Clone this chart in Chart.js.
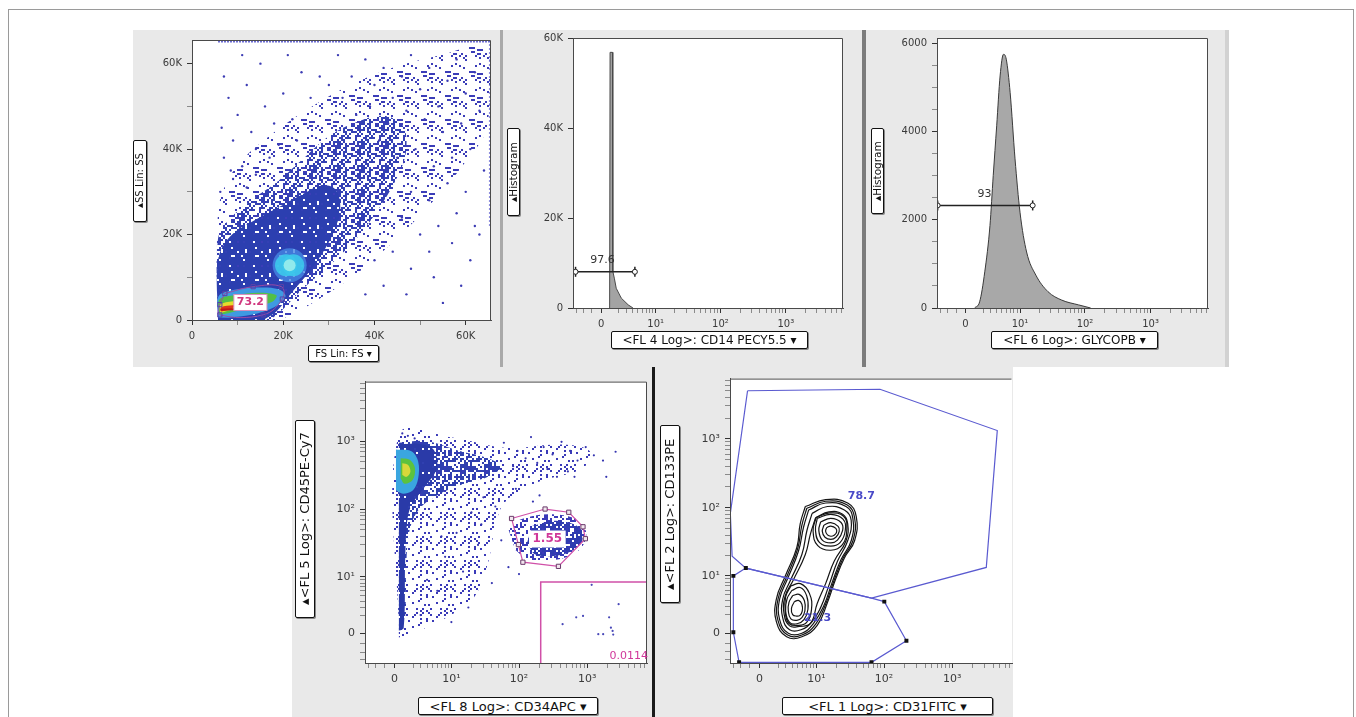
<!DOCTYPE html>
<html lang="en">
<head>
<meta charset="UTF-8" />
<title>Flow cytometry gating</title>
<script src="https://cdn.jsdelivr.net/npm/chart.js"></script>
<style>
  body { margin: 0; background: #fff; font-family: 'DejaVu Sans', sans-serif; }
  #page { position: relative; width: 1356px; height: 717px; overflow: hidden; }
  .frame { position: absolute; left: 8px; top: 9px; width: 1346px; height: 730px; border: 1px solid #9a9a9a; box-sizing: border-box; }
  .gray { position: absolute; background: #e9e9e9; }
  .bar { position: absolute; }
  canvas { position: absolute; }
  .lab {
    position: absolute; background: #fff; border: 1.5px solid #111; border-radius: 2px;
    color: #111; display: flex; align-items: center; justify-content: center;
    white-space: nowrap; box-sizing: border-box; box-shadow: 1px 1px 0 #888; overflow: visible;
  }
  .lab.v { writing-mode: vertical-rl; text-orientation: sideways; transform: rotate(180deg); box-shadow: -1px -1px 0 #888; }
</style>
</head>
<body>
<div id="page">
  <div class="frame"></div>
  <div class="gray" style="left:133px;top:30px;width:1096px;height:337px"></div>
  <div class="gray" style="left:292px;top:367px;width:721px;height:350px"></div>
  <div class="bar" style="left:500px;top:30px;width:3px;height:337px;background:#a9a9a9"></div>
  <div class="bar" style="left:862px;top:30px;width:4px;height:337px;background:#7c7c7c"></div>
  <div class="bar" style="left:1225px;top:30px;width:4px;height:337px;background:#d2d2d2"></div>
  <div class="bar" style="left:652px;top:367px;width:3px;height:350px;background:#1a1a1a"></div>

  <canvas id="c1"></canvas>
  <canvas id="c2"></canvas>
  <canvas id="c3"></canvas>
  <canvas id="c4"></canvas>
  <canvas id="c5"></canvas>

  <div class="lab v" style="left:133px;top:140px;width:14px;height:82px;font-size:10px">▴SS Lin: SS</div>
  <div class="lab" style="left:308px;top:345px;width:71px;height:17px;font-size:10px">FS Lin: FS ▾</div>
  <div class="lab v" style="left:507px;top:128px;width:13px;height:88px;font-size:10.5px">▴Histogram</div>
  <div class="lab" style="left:611px;top:331px;width:197px;height:18px;font-size:12px">&lt;FL 4 Log&gt;: CD14 PECY5.5 ▾</div>
  <div class="lab v" style="left:871px;top:128px;width:13px;height:86px;font-size:10.5px">▴Histogram</div>
  <div class="lab" style="left:991px;top:331px;width:167px;height:18px;font-size:12px">&lt;FL 6 Log&gt;: GLYCOPB ▾</div>
  <div class="lab v" style="left:295px;top:420px;width:20px;height:198px;font-size:13px">▴&lt;FL 5 Log&gt;: CD45PE-Cy7</div>
  <div class="lab" style="left:418px;top:697px;width:180px;height:18px;font-size:13px">&lt;FL 8 Log&gt;: CD34APC ▾</div>
  <div class="lab v" style="left:660px;top:425px;width:20px;height:178px;font-size:13px">▴&lt;FL 2 Log&gt;: CD133PE</div>
  <div class="lab" style="left:782px;top:697px;width:211px;height:18px;font-size:13px">&lt;FL 1 Log&gt;: CD31FITC ▾</div>
</div>

<script>
// ---------- axis ticks ----------
const linMajor = [0, 20000, 40000, 60000];
const linMinor = [10000, 30000, 50000];
const logMajor = [0, 10, 100, 1000];
const logMinor = [-3, -2, -1, 2, 3, 4, 5, 6, 7, 8, 9, 20, 30, 40, 50, 60, 70, 80, 90,
  200, 300, 400, 500, 600, 700, 800, 900, 2000, 3000, 4000, 5000, 6000, 7000];
const hist3Major = [0, 2000, 4000, 6000];
const hist3Minor = [500, 1000, 1500, 2500, 3000, 3500, 4500, 5000, 5500];

// ---------- panel 1: FS Lin vs SS Lin (values in thousands) ----------
const p1Halo = [[5.7,0],[5.7,25.2],[7.6,32.2],[11.2,37.7],[17.1,43.2],[24.3,48.6],[33.1,54.1],[43.3,58.8],
  [54.2,61.9],[64.8,64.2],[64.8,45.5],[59.3,36.1],[52,26.8],[44.8,19],[37.5,12],[30.2,6.5],[22.9,1.8],[19.2,0]];
const p1Band = [[5.7,0],[5.7,19],[8.3,23.7],[13.4,28.4],[18.5,32.2],[24.3,37.7],[30.2,43.2],[36,46.3],
  [41.8,47.8],[46.2,45.5],[46.9,39.3],[44.8,33],[40.4,25.2],[36,19],[30.2,12.8],[24.3,7.3],[20,2.6],[17.1,0]];
const p1Dense = [[5.7,0],[5.7,14],[8.3,19.5],[14,23.5],[19.2,26.5],[24.3,29.5],[28.5,31.5],[31.5,30.5],
  [32.5,26],[31,20.5],[28.5,15.5],[25.5,11],[22,6.6],[18.5,2],[15.6,0]];
const p1Ring = [[5.8,0.6],[5.8,5.5],[9,7],[14,7.6],[19,7.2],[20.5,5.5],[18,3],[13,1.2],[8,0.5]];
const p1Green = [[6,1.2],[6,4.8],[9.5,5.8],[14.5,6.4],[18.5,5.8],[17.5,4.2],[12.5,2.8],[8,1.6]];
const p1Yellow = [[6.2,1.6],[6.2,3.6],[9,4.4],[12.5,4.6],[11,3.2],[8,2.2]];
const p1Red = [[6.4,2.0],[6.4,3.0],[9.5,3.4],[8.5,2.4]];
const p1Streak = [[6.2,2.4],[10,2.6]];
const p1Blob = [[21.4,12.8]];
const p1BlobCore = [[20.6,12.8],[22.2,12.8]];
const p1Gate = [[7.2,6.2],[13.4,7.8],[19.6,7.8],[19.8,4.9],[15.6,1.2],[6.1,1.2],[6.1,3.6],[7.2,6.2]];
const p1Top = [[5.7,65.2],[65.3,65.2]];
const p1Right = [[65.3,22],[65.3,65.2]];
const p1Dots = [[6.5,45],[7,38],[8,52],[9,42],[10,48],[11,36],[12,55],[13,44],[14,40],[15,60],[16,50],[17,38],
  [9,33],[12,31],[7,57],[18,46],[20,53],[19,41],[22,47],[24,58],[21,62],[26,52],[23,42],[28,57],[14,34],[6.2,30],
  [8.5,35],[11,62],[32,62],[35,57],[38,61],[40,55],[42,59],[44,52],[46,57],[48,62],[50,54],[52,59],[54,50],[56,56],
  [58,61],[60,53],[62,58],[63,49],[59,46],[55,44],[51,47],[47,49],[43,46],[39,50],[36,48],[33,52],[30,55],[61,40],
  [57,38],[53,36],[49,40],[45,38],[64,35],[41,42],[48,30],[52,28],[56,32],[60,30],[58,25],[54,22],[50,20],[46,24],
  [62,22],[44,16],[48,12],[52,16],[57,18],[61,14],[42,8],[47,6],[53,10],[55,4],[59,8],[63,20],[38,6],[40,14]];

// ---------- panel 2: CD14 histogram ----------
const p2X = [0.90, 0.95, 1.22, 1.26, 1.45, 1.66, 2.3, 3.3, 4.1];
const p2Y = [0, 57000, 57000, 8200, 6500, 4400, 2200, 700, 0];
const p2GateX = [-3.1, 4.45];
const p2GateY = 8070;

// ---------- panel 3: GLYCOPB histogram ----------
const p3X = [0.99, 1.57, 2.21, 2.93, 3.43, 4.01, 4.64, 5.33, 5.95, 6.92, 8.32, 10.0, 12.7, 17.7, 27.2, 44, 80, 122];
const p3Y = [0, 140, 820, 1870, 3000, 4130, 5260, 5750, 5640, 4880, 3380, 2170, 1270, 745, 370, 180, 70, 0];
const p3GateX = [-3.4, 15.8];
const p3GateY = 2325;

// ---------- panel 4: CD34APC vs CD45PE-Cy7 ----------
const p4Halo = [[0.45,-0.41],[0.45,1268],[10.9,1125],[62.5,801],[435,894],[1091,710],[867,402],[195,253],
  [62,127],[44,51],[35,16],[22,4.74],[8.6,1.73],[2.8,0.27]];
const p4Medium = [[0.45,948],[3.96,998],[13.8,710],[35,564],[55,426],[35,300],[13.8,227],[5.9,160],[2.8,101],
  [1.62,51],[1.23,16],[1.04,0.97],[0.45,0.27]];
const p4Dense = [[0.45,894],[2.8,912],[5.2,754],[5.9,402],[3.4,201],[1.8,114],[1.31,64],[1.1,16],[0.95,0.6],[0.45,0.27]];
const p4Cyan = [[0.15,754],[1.8,710],[2.66,505],[2.66,283],[2.0,191],[0.88,170],[0.15,191]];
const p4Green = [[0.63,564],[1.62,536],[2.24,402],[1.95,269],[1.04,238],[0.63,283]];
const p4Yellow = [[0.8,476],[1.43,449],[1.69,356],[1.27,300],[0.8,320]];
const p4Cluster = [[70,51],[110,72],[275,85],[689,72],[968,45],[769,25.5],[346,18],[139,18],[88,25.5]];
const p4ClusterCore = [[155,57],[346,68],[769,54],[816,32],[435,21.6],[175,21.6],[131,32]];
const p4Gate = [[77.8,73.4],[241,101],[536,90.5],[866,55.4],[938,37],[378,14.4],[114,16.6],[98,30.3],[77.8,73.4]];
const p4Quad = [[208,-3.5],[208,8.3],[7500,8.3]];
const p4Dots = [[60,950],[95,720],[150,1150],[230,820],[310,640],[420,980],[560,720],[720,520],[950,820],[1250,620],
  [1700,520],[2600,700],[185,480],[125,560],[82,430],[260,390],[360,300],[520,360],[0.8,1300],[1.4,1200],[2.2,1100],
  [30,150],[20,90],[45,110],[12,45],[25,30],[8,20],[15,12],[40,8],[6,6],[18,3],[3,2],[10,1.2],[28,60],[55,35],
  [70,14],[100,11],[4,9],[7,40],[160,130],[200,160],[90,200],[650,300],[1900,300]];
const p4QuadDots = [[435,0.97],[689,1.73],[867,1.9],[1160,7.5],[2090,1.73],[2220,0.6],[2350,0.27],[2880,3.5],
  [1450,-0.06],[1710,-0.06],[2400,-0.1]];

// ---------- panel 5: CD31FITC vs CD133PE contours ----------
const p5Upper = [[-1.24,4995],[87.3,5250],[4565,1320],[3150,13.4],[65.6,4.4],[-1.43,13.1],[-3.18,19.7],[-3.45,82.6],[-1.24,4995]];
const p5Lower = [[-1.43,13.1],[65.6,4.4],[101,3.8],[213,-0.76],[65.6,-3.4],[-2.23,-3.4],[-3.0,0.1],[-3.0,10],[-1.43,13.1]];
const p5Handles = [[-1.43,13.1],[-3.0,10],[-3.0,0.1],[-2.23,-3.4],[65.6,-3.4],[213,-0.76],[101,3.8]];
const p5Contours = [
  [[6.72,104],[13.8,131],[29.3,117],[39.2,73.9],[37,33],[26.2,18.5],[19.6,9.1],[14.7,3.67],[10.3,0.8],[5.91,-0.35],
   [3.15,-0.35],[1.8,1.2],[1.8,4.24],[3.0,10.2],[4.86,26.3],[5.55,58.7]],
  [[7.1,98],[13.8,124],[28.5,110],[37,72],[35,33],[24.8,18],[18.5,8.6],[13.8,3.4],[9.7,0.9],[5.9,-0.17],
   [3.3,-0.17],[2.0,1.3],[2.0,4.24],[3.15,9.6],[5.0,24.8],[5.9,55.5]],
  [[7.6,92.7],[13.8,117],[27.7,104],[34.9,69.8],[33,33],[23.4,17.5],[17.4,8.1],[13.0,3.2],[9.1,1.05],[5.91,0],
   [3.4,0],[2.2,1.42],[2.2,4.24],[3.3,9.1],[5.19,23.4],[6.3,52.4]],
  [[8.6,82.7],[14.7,104],[26.2,92.7],[33,65.7],[29.3,33],[20.7,16.5],[15.5,7.2],[11.6,2.9],[8.6,1.2],[5.7,0.35],
   [3.6,0.35],[2.6,1.62],[2.6,4.24],[3.7,8.4],[5.91,20.8],[7.13,46.6]],
  [[9.7,71],[15.5,86.9],[24.7,80.5],[29.3,58.7],[27.7,33],[18.5,16.5],[13.8,7.6],[10.3,3.5],[8.1,1.0],[5.3,0.69],
   [3.6,0.75],[2.8,2.0],[2.9,4.6],[4.2,8.6],[6.72,20.8],[8.1,41.6]],
  [[9.9,72],[16,84],[25.5,75],[28.5,50],[24.5,29],[16.5,24],[10.5,28],[8.9,46]],
  [[10.3,70],[16.5,80],[25,68],[27,46.6],[22.6,31],[16.5,27.6],[11.2,31],[9.7,46.6]],
  [[11.6,62],[16.5,69.8],[23.4,61],[24.7,46.6],[20.7,33.8],[16.5,30.8],[12.3,33.8],[10.9,46.6]],
  [[13.0,55.6],[16.5,60.8],[21.2,53.5],[22,45.2],[19.6,37.1],[16.5,34.6],[13.5,37.1],[12.3,45.2]],
  [[14.3,51.2],[16.5,54.1],[19.6,50],[20.1,44.1],[18.5,39.7],[16.5,38.4],[14.7,40.2],[13.8,45.4]],
  [[3.8,7.0],[5.6,7.6],[7.8,5.3],[8.4,2.6],[7.0,1.1],[5.0,0.8],[3.5,1.0],[2.95,2.3],[3.0,4.6]],
  [[3.95,5.9],[5.55,6.6],[7.05,4.86],[7.4,2.68],[6.4,1.42],[4.9,0.97],[3.6,1.12],[3.0,2.45],[3.2,4.24]],
  [[4.1,4.86],[5.3,5.1],[6.5,3.95],[6.6,2.45],[5.91,1.65],[4.86,1.34],[3.8,1.5],[3.4,2.45],[3.5,3.67]],
  [[4.4,3.8],[5.19,4.0],[5.91,3.4],[6.0,2.45],[5.5,1.9],[4.8,1.82],[4.1,2.0],[3.9,2.8]]
];

// ---------- in-plot gate labels ----------
const MARKS = {
  c1: [{ x: 12800, y: 4100, text: '73.2', color: '#d0387f', box: '#d98fbc', bold: true }],
  c2: [{ x: 0.14, y: 10700, text: '97.6', color: '#333' }],
  c3: [{ x: 2.16, y: 2590, text: '93', color: '#333' }],
  c4: [{ x: 260, y: 36.6, text: '1.55', color: '#d0389a', box: '#fff', bold: true, size: 12 },
       { x: 4045, y: -2.54, text: '0.0114', color: '#d0389a' }],
  c5: [{ x: 46.5, y: 146, text: '78.7', color: '#4a4ac8', bold: true },
       { x: 10.4, y: 1.54, text: '21.3', color: '#4a4ac8', bold: true }]
};
const NO_RIGHT = { c5: true };

// ---------- biexponential (asinh) display scale ----------
const COF = 3;
const LOG_MIN = -3.5, LOG_MAX = 7500;
const tr = v => Math.asinh(v / COF);
class LogicleScale extends Chart.LinearScale {
  static id = 'logicle';
  static defaults = {};
  determineDataLimits() {
    this.min = this.options.min;
    this.max = this.options.max;
  }
  buildTicks() { return []; }
  getPixelForValue(value) {
    const a = tr(this.min), b = tr(this.max);
    return this.getPixelForDecimal((tr(value) - a) / (b - a));
  }
  getValueForPixel(pixel) {
    const a = tr(this.min), b = tr(this.max);
    return COF * Math.sinh(a + this.getDecimalForPixel(pixel) * (b - a));
  }
}
Chart.register(LogicleScale);

// white plot area, frame and gate labels
Chart.register({
  id: 'plotFrame',
  beforeDraw(chart) {
    const a = chart.chartArea, g = chart.ctx;
    g.save(); g.fillStyle = '#fff'; g.fillRect(a.left, a.top, a.width, a.height); g.restore();
  },
  afterDatasetsDraw(chart) {
    const a = chart.chartArea, g = chart.ctx, id = chart.canvas.id;
    g.save();
    g.strokeStyle = '#4a4a4a'; g.lineWidth = 1;
    g.beginPath();
    g.moveTo(a.left + 0.5, a.bottom); g.lineTo(a.left + 0.5, a.top + 0.5); g.lineTo(a.right - 0.5, a.top + 0.5);
    if (!NO_RIGHT[id]) g.lineTo(a.right - 0.5, a.bottom);
    g.stroke();
    (MARKS[id] || []).forEach(m => {
      const px = chart.scales.x.getPixelForValue(m.x), py = chart.scales.y.getPixelForValue(m.y);
      g.font = (m.bold ? 'bold ' : '') + (m.size || 11) + 'px "DejaVu Sans"';
      const w = g.measureText(m.text).width;
      if (m.box) {
        g.fillStyle = '#fff'; g.fillRect(px - w / 2 - 3, py - 8, w + 6, 16);
        g.strokeStyle = m.box; g.strokeRect(px - w / 2 - 3, py - 8, w + 6, 16);
      }
      g.fillStyle = m.color; g.textAlign = 'center'; g.textBaseline = 'middle';
      g.fillText(m.text, px, py);
    });
    g.restore();
  }
});

// ---------- helpers ----------
let seed = 1;
function speckle(color, density) {
  const cell = 2, n = 12, s = seed++;
  const c = document.createElement('canvas');
  c.width = c.height = n * cell;
  const g = c.getContext('2d');
  g.fillStyle = color;
  for (let i = 0; i < n; i++) for (let j = 0; j < n; j++) {
    const h = (((i + 1) * 73856093) ^ ((j + 1) * 19349663) ^ (s * 83492791)) >>> 0;
    if ((h % 1009) / 1009 < density) g.fillRect(i * cell, j * cell, cell, cell);
  }
  return g.createPattern(c, 'repeat');
}
const xy = (arr, k = 1) => arr.map(p => ({ x: p[0] * k, y: p[1] * k }));
const area = (arr, color, k, tension = 0.35) =>
  ({ data: xy(arr, k), fill: 'shape', backgroundColor: color, borderWidth: 0, pointRadius: 0, tension });
const path = (arr, color, width, k, extra) =>
  Object.assign({ data: xy(arr, k), fill: false, borderColor: color, borderWidth: width, pointRadius: 0, tension: 0 }, extra || {});
const dots = (arr, color, r, k, extra) =>
  Object.assign({ data: xy(arr, k), showLine: false, pointRadius: r, pointBackgroundColor: color, pointBorderWidth: 0 }, extra || {});
const histo = (xs, ys) => xs.map((x, i) => [x, ys[i]]);
const closed = arr => arr.concat([arr[0]]);

const fmtK = v => v === 0 ? '0' : (v / 1000) + 'K';
const LOG_LABELS = { 0: '0', 10: '10¹', 100: '10²', 1000: '10³' };
const fmtLog = v => LOG_LABELS[v];
const fmtNum = v => String(v);

function axis(type, min, max, major, minor, fmt, size) {
  const all = major.concat(minor).filter(v => v >= min && v <= max).sort((a, b) => a - b);
  return {
    type, min, max,
    afterBuildTicks: s => { s.ticks = all.map(v => ({ value: v })); },
    grid: { drawOnChartArea: false, drawTicks: true, tickLength: 5,
      tickColor: c => (c.tick && major.includes(c.tick.value)) ? '#333' : '#8a8a8a' },
    border: { display: true, color: '#4a4a4a' },
    ticks: { autoSkip: false, maxRotation: 0, minRotation: 0, padding: 5, color: '#3a3a3a',
      font: { family: 'DejaVu Sans', size }, callback: v => major.includes(v) ? fmt(v) : '' }
  };
}

function panel(id, box, xs, ys, datasets) {
  const [l, t, r, b] = box;
  const ML = 55, MT = 10, MR = 10, MB = 26;
  const cv = document.getElementById(id);
  cv.width = r - l + ML + MR;
  cv.height = b - t + MT + MB;
  cv.style.left = (l - ML) + 'px';
  cv.style.top = (t - MT) + 'px';
  datasets.forEach((d, i) => { d.order = datasets.length - i; });
  return new Chart(cv, {
    type: 'line',
    data: { datasets },
    options: {
      responsive: false, animation: false, events: [],
      layout: { autoPadding: false, padding: { left: 0, top: MT, right: MR, bottom: 0 } },
      plugins: { legend: { display: false }, tooltip: { enabled: false } },
      scales: {
        x: Object.assign(xs, { position: 'bottom', afterFit: s => { s.height = MB; } }),
        y: Object.assign(ys, { position: 'left', afterFit: s => { s.width = ML; } })
      }
    }
  });
}

// ---------- panel 1 ----------
panel('c1', [192, 39, 491, 320],
  axis('linear', 0, 65536, linMajor, linMinor, fmtK, 10),
  axis('linear', 0, 65536, linMajor, linMinor, fmtK, 10),
  [
    area(p1Halo, speckle('#3b3db8', 0.16), 1000),
    area(p1Band, speckle('#3340b4', 0.45), 1000),
    area(p1Dense, speckle('#2c3fb0', 0.85), 1000),
    dots(p1Dots, '#3c3cb4', 1.2, 1000),
    path(p1Top, 'rgba(70,70,200,0.8)', 2, 1000, { borderDash: [2, 1] }),
    path(p1Right, 'rgba(70,70,200,0.6)', 2, 1000, { borderDash: [2, 2] }),
    dots(p1Blob, 'rgba(70,135,228,0.8)', 17, 1000),
    dots(p1BlobCore, 'rgba(60,200,235,0.9)', 11, 1000),
    dots(p1Blob, 'rgba(150,236,236,0.95)', 6, 1000),
    area(p1Ring, '#3f9ae2', 1000),
    area(p1Green, '#52c046', 1000),
    area(p1Yellow, '#e6dc2c', 1000),
    area(p1Red, '#e03420', 1000),
    path(p1Streak, '#c01818', 2, 1000),
    path(p1Gate, '#9a4aa6', 1, 1000, { tension: 0.4 }),
    dots(p1Gate.slice(0, 7), 'rgba(255,255,255,0)', 3, 1000,
      { pointStyle: 'rect', pointBorderColor: '#5a40a8', pointBorderWidth: 1 })
  ]);

// ---------- panel 2 ----------
panel('c2', [573, 37, 843, 308],
  axis('logicle', LOG_MIN, LOG_MAX, logMajor, logMinor, fmtLog, 10),
  axis('linear', 0, 60200, linMajor, [], fmtK, 10),
  [
    path(histo(p2X, p2Y), '#4a4a4a', 1, 1, { fill: 'origin', backgroundColor: '#a3a3a3' }),
    path(p2GateX.map(x => [x, p2GateY]), '#222', 1.5, 1),
    dots(p2GateX.map(x => [x, p2GateY]), '#222', 5, 1, { pointStyle: 'line', rotation: 90, pointBorderColor: '#222', pointBorderWidth: 1.5 }),
    dots(p2GateX.map(x => [x, p2GateY]), '#fff', 2.5, 1, { pointBorderColor: '#222', pointBorderWidth: 1 })
  ]);

// ---------- panel 3 ----------
panel('c3', [937, 37, 1208, 308],
  axis('logicle', LOG_MIN, LOG_MAX, logMajor, logMinor, fmtLog, 10),
  axis('linear', 0, 6120, hist3Major, hist3Minor, fmtNum, 10),
  [
    path(histo(p3X, p3Y), '#3a3a3a', 1, 1, { fill: 'origin', backgroundColor: '#a8a8a8', cubicInterpolationMode: 'monotone' }),
    path(p3GateX.map(x => [x, p3GateY]), '#222', 1.5, 1),
    dots(p3GateX.map(x => [x, p3GateY]), '#222', 5, 1, { pointStyle: 'line', rotation: 90, pointBorderColor: '#222', pointBorderWidth: 1.5 }),
    dots(p3GateX.map(x => [x, p3GateY]), '#fff', 2.5, 1, { pointBorderColor: '#222', pointBorderWidth: 1 })
  ]);

// ---------- panel 4 ----------
panel('c4', [365, 380, 647, 663],
  axis('logicle', LOG_MIN, LOG_MAX, logMajor, logMinor, fmtLog, 11),
  axis('logicle', LOG_MIN, LOG_MAX, logMajor, logMinor, fmtLog, 11),
  [
    area(p4Halo, speckle('#3a3ab8', 0.13), 1),
    area(p4Medium, speckle('#3040b0', 0.5), 1),
    area(p4Dense, speckle('#2a3aa8', 0.9), 1),
    area(p4Cluster, speckle('#3a3ab8', 0.32), 1),
    area(p4ClusterCore, speckle('#2f3cb0', 0.65), 1),
    dots(p4Dots, '#3535b0', 1.1, 1),
    dots(p4QuadDots, '#4848b8', 1.1, 1),
    area(p4Cyan, '#3aa6e0', 1),
    area(p4Green, '#5cc23e', 1),
    area(p4Yellow, '#d8d83a', 1),
    path(p4Gate, '#d050a8', 1.2, 1),
    dots(p4Gate.slice(0, 8), '#f2e6ee', 3, 1, { pointStyle: 'rect', pointBorderColor: '#6a3a6a', pointBorderWidth: 1 }),
    path(p4Quad, '#d050a8', 1.5, 1)
  ]);

// ---------- panel 5 ----------
const p5Sets = [];
p5Contours.forEach(c => p5Sets.push(path(closed(c), '#151515', 1.2, 1, { tension: 0.45 })));
p5Sets.push(path(p5Upper, '#5a5ad0', 1.2, 1));
p5Sets.push(path(p5Lower, '#5a5ad0', 1.2, 1));
p5Sets.push(dots(p5Handles, '#111', 2.8, 1, { pointStyle: 'rect' }));
panel('c5', [730, 377, 1012, 663],
  axis('logicle', LOG_MIN, LOG_MAX, logMajor, logMinor, fmtLog, 11),
  axis('logicle', LOG_MIN, LOG_MAX, logMajor, logMinor, fmtLog, 11),
  p5Sets);
</script>
</body>
</html>
